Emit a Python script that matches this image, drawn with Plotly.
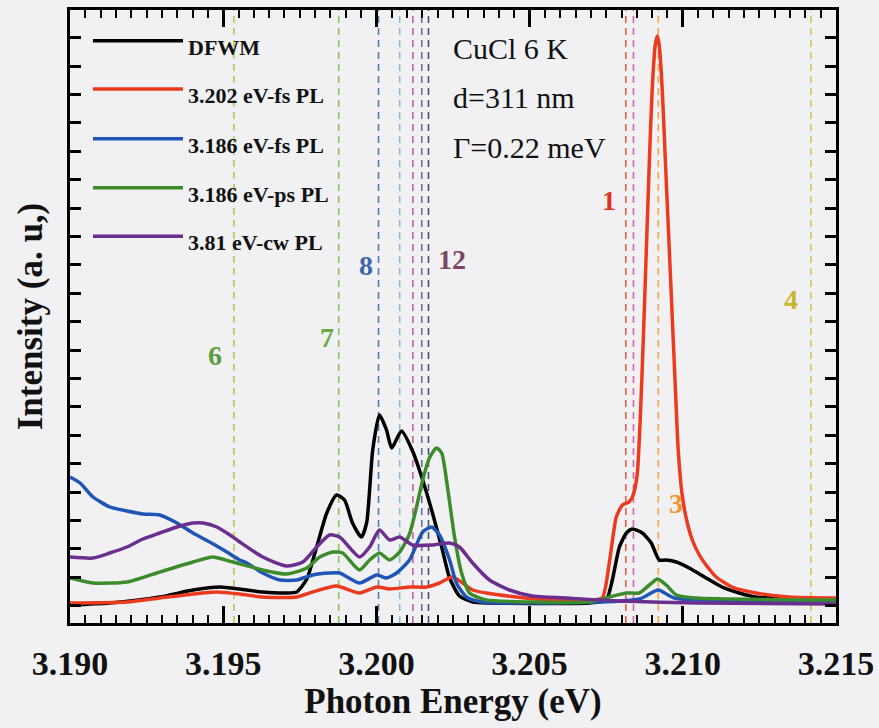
import plotly.graph_objects as go

# ---------------- data (photon energy in eV, intensity in a.u.) ----------------
dfwm_x = [3.19000, 3.19130, 3.19293, 3.19401, 3.19489, 3.19554, 3.19629, 3.19707, 3.19740, 3.19773,
          3.19805, 3.19838, 3.19870, 3.19896, 3.19922, 3.19951, 3.19968, 3.19988, 3.20010, 3.20033,
          3.20050, 3.20082, 3.20118, 3.20151, 3.20183, 3.20213, 3.20239, 3.20271, 3.20314, 3.20369,
          3.20695, 3.20750, 3.20770, 3.20793, 3.20816, 3.20835, 3.20868, 3.20897, 3.20923, 3.20946,
          3.20979, 3.21021, 3.21076, 3.21128, 3.21184, 3.21239, 3.21304, 3.21500]
dfwm_y = [18, 20, 26, 33, 36, 34, 31, 30, 31, 44,
          76, 110, 128, 123, 100, 86, 100, 173, 208, 193,
          175, 192, 172, 143, 110, 76, 45, 27, 21, 20,
          20, 23, 43, 76, 90, 94, 90, 80, 63, 63,
          61, 55, 45, 36, 30, 26, 25, 23]

fs3202_x = [3.19000, 3.19186, 3.19293, 3.19401, 3.19479, 3.19554, 3.19629, 3.19740, 3.19792, 3.19870,
            3.19945, 3.20001, 3.20043, 3.20108, 3.20164, 3.20206, 3.20248, 3.20281, 3.20314, 3.20359,
            3.20457, 3.20565, 3.20695, 3.20737, 3.20760, 3.20783, 3.20803, 3.20825, 3.20838, 3.20851,
            3.20861, 3.20871, 3.20881, 3.20891, 3.20900, 3.20910, 3.20917, 3.20923, 3.20933, 3.20943,
            3.20956, 3.20966, 3.20976, 3.20985, 3.20998, 3.21014, 3.21031, 3.21054, 3.21076, 3.21109,
            3.21161, 3.21239, 3.21347, 3.21500]
fs3202_y = [20, 21, 25, 29, 31, 29, 26, 26, 31, 37,
            30, 36, 34, 36, 36, 40, 46, 40, 33, 30,
            26, 23, 23, 25, 60, 106, 118, 121, 128, 148,
            203, 283, 373, 463, 533, 578, 587, 578, 533, 463,
            373, 303, 233, 173, 128, 101, 83, 68, 58, 46,
            36, 30, 26, 25]

fs3186_x = [3.19000, 3.19033, 3.19075, 3.19130, 3.19186, 3.19238, 3.19293, 3.19349, 3.19401, 3.19456,
            3.19512, 3.19554, 3.19577, 3.19629, 3.19685, 3.19740, 3.19792, 3.19847, 3.19880, 3.19945,
            3.20001, 3.20033, 3.20066, 3.20108, 3.20151, 3.20180, 3.20206, 3.20239, 3.20261, 3.20294,
            3.20346, 3.20727, 3.20858, 3.20920, 3.20972, 3.21500]
fs3186_y = [146, 140, 126, 116, 112, 109, 108, 100, 90, 81,
            71, 63, 60, 50, 43, 43, 48, 50, 50, 40,
            48, 45, 50, 63, 91, 96, 88, 63, 40, 26,
            21, 21, 24, 33, 25, 22]

ps3186_x = [3.19000, 3.19075, 3.19186, 3.19293, 3.19401, 3.19466, 3.19531, 3.19629, 3.19707, 3.19773,
            3.19815, 3.19857, 3.19890, 3.19945, 3.19978, 3.20010, 3.20043, 3.20076, 3.20108, 3.20131,
            3.20151, 3.20173, 3.20196, 3.20213, 3.20232, 3.20255, 3.20278, 3.20304, 3.20359, 3.20509,
            3.20695, 3.20760, 3.20816, 3.20858, 3.20891, 3.20917, 3.20946, 3.20979, 3.21044, 3.21500]
ps3186_y = [45, 40, 41, 51, 61, 66, 61, 53, 49, 55,
            66, 71, 70, 53, 63, 70, 63, 71, 89, 116,
            143, 165, 175, 170, 136, 86, 50, 30, 23, 21,
            21, 26, 30, 30, 38, 44, 38, 28, 25, 23]

cw381_x = [3.19000, 3.19075, 3.19130, 3.19186, 3.19238, 3.19293, 3.19349, 3.19401, 3.19434, 3.19479,
           3.19522, 3.19554, 3.19629, 3.19707, 3.19760, 3.19805, 3.19847, 3.19880, 3.19945, 3.19978,
           3.20010, 3.20043, 3.20076, 3.20118, 3.20183, 3.20239, 3.20271, 3.20314, 3.20369, 3.20434,
           3.20509, 3.20620, 3.20793, 3.21054, 3.21500]
cw381_y = [66, 65, 70, 76, 84, 90, 96, 100, 100, 96,
           88, 81, 66, 57, 61, 76, 88, 86, 66, 76,
           93, 83, 86, 78, 78, 80, 76, 60, 43, 33,
           27, 25, 22, 20, 19]

series_names = ["DFWM", "3.202 eV-fs PL", "3.186 eV-fs PL", "3.186 eV-ps PL", "3.81 eV-cw PL"]
series_x = [dfwm_x, fs3202_x, fs3186_x, ps3186_x, cw381_x]
series_y = [dfwm_y, fs3202_y, fs3186_y, ps3186_y, cw381_y]
series_colors = ["#000000", "#ec3a1e", "#1f55b5", "#3d8c2c", "#6b2d8e"]

# transition energies marked by dashed lines
mark_x = [3.19535, 3.19877, 3.20007, 3.20076, 3.20119, 3.20148, 3.20170,
          3.20814, 3.20839, 3.20920, 3.21418]
mark_colors = ["#b9c94c", "#8cc25a", "#4f7fb5", "#8cc0c8", "#c8609a", "#6a6aa8", "#4a5278",
               "#e8604a", "#d868a8", "#f0a848", "#d4c848"]

# numbered labels
label_text = ["6", "7", "8", "12", "1", "3", "4"]
label_x = [3.19473, 3.19838, 3.19965, 3.20248, 3.20760, 3.20979, 3.21353]
label_y = [268, 286, 358, 364, 423, 120, 324]
label_colors = ["#5f9e3c", "#6aa844", "#3d66a8", "#7a4860", "#e0321e", "#f0962c", "#c9b52c"]

xtick_vals = [3.190, 3.195, 3.200, 3.205, 3.210, 3.215]
xtick_text = ["3.190", "3.195", "3.200", "3.205", "3.210", "3.215"]
xminor_vals = [3.190 + 0.0005 * i for i in range(51)]

ytick_vals = [17.4 + 28.4 * i for i in range(21)]

info_text = ["CuCl 6 K", "d=311 nm", "Γ=0.22 meV"]

SERIF = "Liberation Serif, Times New Roman, serif"
BG = "#f1f1f4"

fig = go.Figure()
for nm, xs, ys, c in zip(series_names, series_x, series_y, series_colors):
    fig.add_trace(go.Scatter(x=xs, y=ys, mode="lines", name=nm,
                             line=dict(color=c, width=3.5, shape="spline", smoothing=0.6),
                             showlegend=False))

for mx, mc in zip(mark_x, mark_colors):
    fig.add_vline(x=mx, line=dict(color=mc, width=1.6, dash="7px,5px"), layer="below")

for t, lx, ly, lc in zip(label_text, label_x, label_y, label_colors):
    fig.add_annotation(x=lx, y=ly, text="<b>%s</b>" % t, showarrow=False,
                       font=dict(family=SERIF, size=28, color=lc))

# legend drawn by hand (long sample lines like the original)
leg_y = [0.950, 0.871, 0.790, 0.710, 0.631]
for nm, c, ly in zip(series_names, series_colors, leg_y):
    fig.add_shape(type="line", xref="paper", yref="paper", x0=0.030, x1=0.1475, y0=ly, y1=ly,
                  line=dict(color=c, width=3.5))
    fig.add_annotation(xref="paper", yref="paper", x=0.152, y=ly - 0.011, xanchor="left",
                       yanchor="middle", text="<b>%s</b>" % nm, showarrow=False,
                       font=dict(family=SERIF, size=22, color="#111111"))

info_y = [0.938, 0.858, 0.775]
for t, iy in zip(info_text, info_y):
    fig.add_annotation(xref="paper", yref="paper", x=0.498, y=iy, xanchor="left", yanchor="middle",
                       text=t, showarrow=False, font=dict(family=SERIF, size=30, color="#111111"))

fig.update_layout(
    width=879, height=728, autosize=False,
    margin=dict(l=70, r=43, t=10, b=105),
    paper_bgcolor=BG, plot_bgcolor=BG,
    xaxis=dict(range=[3.190, 3.215], tickmode="array", tickvals=xtick_vals,
               ticktext=["<b>%s</b>" % t for t in xtick_text],
               ticks="inside", ticklen=17, tickwidth=3, tickcolor="black",
               minor=dict(ticks="inside", tickmode="array", tickvals=xminor_vals,
                          ticklen=8, tickwidth=2.2, tickcolor="black"),
               showline=True, linewidth=3, linecolor="black", mirror="allticks",
               showgrid=False, zeroline=False, automargin=False,
               tickfont=dict(family=SERIF, size=34, color="#111111"),
               ticklabelstandoff=8,
               title=dict(text="<b>Photon Energy (eV)</b>", standoff=6,
                          font=dict(family=SERIF, size=35, color="#111111"))),
    yaxis=dict(range=[0, 613], tickmode="array", tickvals=ytick_vals,
               ticks="inside", ticklen=11, tickwidth=2.5, tickcolor="black",
               showticklabels=False,
               showline=True, linewidth=3, linecolor="black", mirror="allticks",
               showgrid=False, zeroline=False, automargin=False,
               title=dict(text="<b>Intensity (a. u,)</b>", standoff=14,
                          font=dict(family=SERIF, size=35, color="#111111"))),
)

fig.write_html("out.html")
